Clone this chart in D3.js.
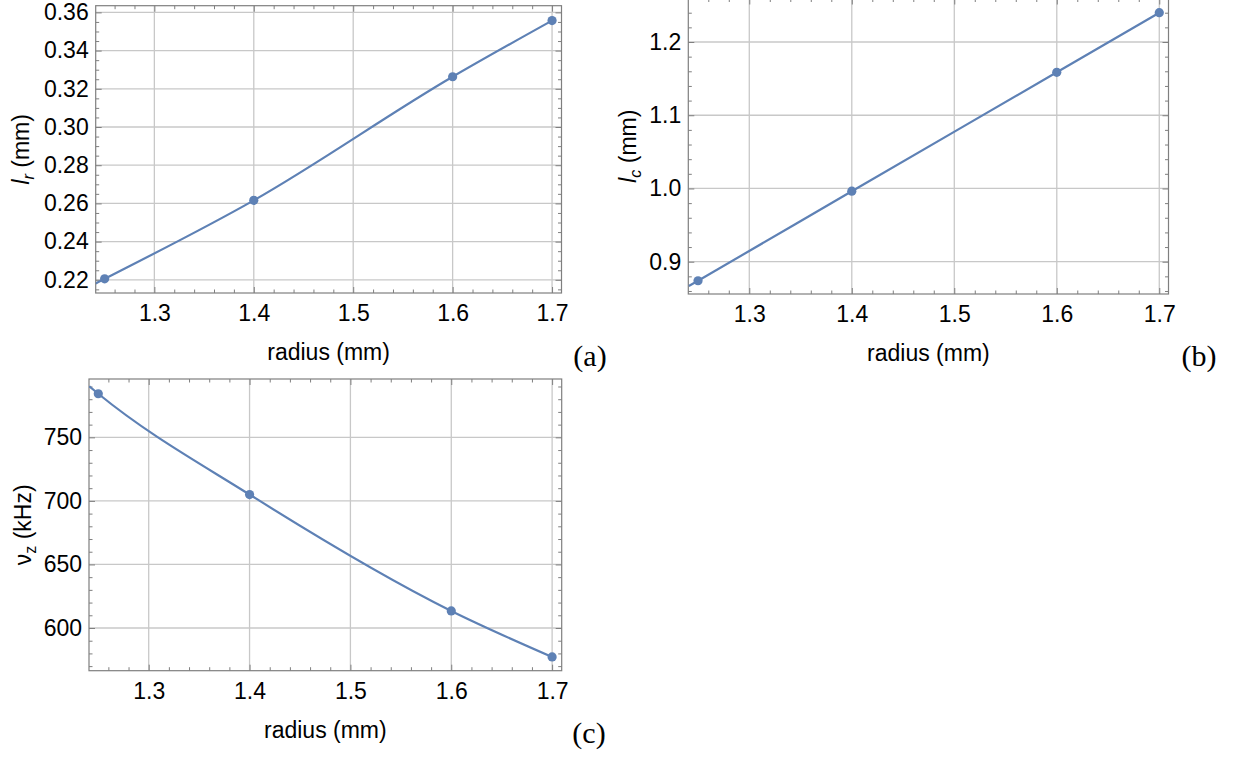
<!DOCTYPE html>
<html>
<head>
<meta charset="utf-8">
<script src="https://cdn.jsdelivr.net/npm/d3@7"></script>
<style>
  html, body { margin: 0; padding: 0; background: #fff; }
  svg { display: block; }
</style>
</head>
<body>
<svg id="chart" width="1248" height="758"></svg>
<script>
// ---------------- data ----------------
const radius = [1.25, 1.4, 1.6, 1.7];               // mm
const lr = [0.2205, 0.2616, 0.3263, 0.3557];         // panel (a), mm
const lc = [0.874, 0.9963, 1.1586, 1.240];           // panel (b), mm
const nuz = [784.3, 705.0, 613.4, 577.2];            // panel (c), kHz
// value of the fitted curve where it enters the frame on the left
const curveStartRadius = 1.241;
const lrCurveStart = 0.2181;
const lcCurveStart = 0.8668;
const nuzCurveStart = 790.2;

const xTicks = [1.3, 1.4, 1.5, 1.6, 1.7];
const xTickLabels = ["1.3", "1.4", "1.5", "1.6", "1.7"];
const aYTicks = [0.22, 0.24, 0.26, 0.28, 0.30, 0.32, 0.34, 0.36];
const aYTickLabels = ["0.22", "0.24", "0.26", "0.28", "0.30", "0.32", "0.34", "0.36"];
const bYTicks = [0.9, 1.0, 1.1, 1.2];
const bYTickLabels = ["0.9", "1.0", "1.1", "1.2"];
const cYTicks = [600, 650, 700, 750];
const cYTickLabels = ["600", "650", "700", "750"];
const xLabel = "radius (mm)";
const panelTags = ["(a)", "(b)", "(c)"];

// ---------------- style ----------------
const lineColor = "#5E81B5";
const frameColor = "#7f7f7f";
const gridColor = "#c8c8c8";
const sans = '"Liberation Sans", Arial, sans-serif';
const serif = '"Liberation Serif", "Times New Roman", serif';
const fs = 23;

const svg = d3.select("#chart");
const defs = svg.append("defs");

const panels = [
  {
    rect: {x0: 95.7, x1: 561.5, y0: 5.7, y1: 293},
    xDomain: [1.241, 1.7095], yDomain: [0.2131, 0.3635],
    y: lr, start: lrCurveStart,
    yTicks: aYTicks, yTickLabels: aYTickLabels, yMinorStep: 0.005,
    ylab: {x: 21, main: "l", sub: "r", rest: " (mm)", italicSub: true},
    tag: panelTags[0], tagPos: [590, 366]
  },
  {
    rect: {x0: 688.3, x1: 1168.5, y0: -1.5, y1: 294},
    xDomain: [1.2405, 1.709], yDomain: [0.8559, 1.2594],
    y: lc, start: lcCurveStart,
    yTicks: bYTicks, yTickLabels: bYTickLabels, yMinorStep: 0.02,
    ylab: {x: 628, main: "l", sub: "c", rest: " (mm)", italicSub: true},
    tag: panelTags[1], tagPos: [1199, 366]
  },
  {
    rect: {x0: 89, x1: 561.7, y0: 379, y1: 670.7},
    xDomain: [1.2408, 1.7095], yDomain: [566.4, 795.9],
    y: nuz, start: nuzCurveStart,
    yTicks: cYTicks, yTickLabels: cYTickLabels, yMinorStep: 10,
    ylab: {x: 23, main: "ν", sub: "z", rest: " (kHz)", italicSub: false, upright: true},
    tag: panelTags[2], tagPos: [589, 743]
  }
];

panels.forEach((p, pi) => {
  const r = p.rect;
  const x = d3.scaleLinear().domain(p.xDomain).range([r.x0, r.x1]);
  const y = d3.scaleLinear().domain(p.yDomain).range([r.y1, r.y0]);
  const g = svg.append("g");
  const W = r.x1 - r.x0, H = r.y1 - r.y0;

  defs.append("clipPath").attr("id", "clip" + pi)
    .append("rect").attr("x", r.x0).attr("y", r.y0).attr("width", W).attr("height", H);

  // grid lines
  g.append("g").selectAll("line").data(xTicks).join("line")
    .attr("x1", d => x(d)).attr("x2", d => x(d))
    .attr("y1", r.y0).attr("y2", r.y1)
    .attr("stroke", gridColor).attr("stroke-width", 1.3);
  g.append("g").selectAll("line").data(p.yTicks).join("line")
    .attr("x1", r.x0).attr("x2", r.x1)
    .attr("y1", d => y(d)).attr("y2", d => y(d))
    .attr("stroke", gridColor).attr("stroke-width", 1.3);

  // minor tick positions
  const xMinor = d3.range(1.24, 1.71, 0.02).map(v => +v.toFixed(3))
    .filter(v => v >= p.xDomain[0] && v <= p.xDomain[1] && !xTicks.some(t => Math.abs(t - v) < 1e-6));
  const yMinor = d3.range(Math.ceil(p.yDomain[0] / p.yMinorStep) * p.yMinorStep, p.yDomain[1], p.yMinorStep)
    .map(v => +v.toFixed(4))
    .filter(v => !p.yTicks.some(t => Math.abs(t - v) < 1e-6));

  const styleAxis = (sel) => {
    sel.select(".domain").remove();
    sel.selectAll(".tick line").attr("stroke", frameColor).attr("stroke-width", 1);
    sel.selectAll(".tick text").attr("font-size", fs).attr("fill", "#000").attr("font-family", sans);
  };

  // bottom axis (labels)
  g.append("g").attr("transform", `translate(0,${r.y1})`)
    .call(d3.axisBottom(x).tickValues(xTicks).tickFormat((d, i) => xTickLabels[i]).tickSizeInner(-6).tickSizeOuter(0).tickPadding(12))
    .call(styleAxis);
  g.append("g").attr("transform", `translate(0,${r.y1})`)
    .call(d3.axisBottom(x).tickValues(xMinor).tickFormat("").tickSizeInner(-3.5).tickSizeOuter(0))
    .call(styleAxis);
  // top axis
  g.append("g").attr("transform", `translate(0,${r.y0})`)
    .call(d3.axisTop(x).tickValues(xTicks).tickFormat("").tickSizeInner(-6).tickSizeOuter(0))
    .call(styleAxis);
  g.append("g").attr("transform", `translate(0,${r.y0})`)
    .call(d3.axisTop(x).tickValues(xMinor).tickFormat("").tickSizeInner(-3.5).tickSizeOuter(0))
    .call(styleAxis);
  // left axis (labels)
  g.append("g").attr("transform", `translate(${r.x0},0)`)
    .call(d3.axisLeft(y).tickValues(p.yTicks).tickFormat((d, i) => p.yTickLabels[i]).tickSizeInner(-6).tickSizeOuter(0).tickPadding(7))
    .call(styleAxis);
  g.append("g").attr("transform", `translate(${r.x0},0)`)
    .call(d3.axisLeft(y).tickValues(yMinor).tickFormat("").tickSizeInner(-3.5).tickSizeOuter(0))
    .call(styleAxis);
  // right axis
  g.append("g").attr("transform", `translate(${r.x1},0)`)
    .call(d3.axisRight(y).tickValues(p.yTicks).tickFormat("").tickSizeInner(-6).tickSizeOuter(0))
    .call(styleAxis);
  g.append("g").attr("transform", `translate(${r.x1},0)`)
    .call(d3.axisRight(y).tickValues(yMinor).tickFormat("").tickSizeInner(-3.5).tickSizeOuter(0))
    .call(styleAxis);

  // frame
  g.append("rect").attr("x", r.x0).attr("y", r.y0).attr("width", W).attr("height", H)
    .attr("fill", "none").attr("stroke", frameColor).attr("stroke-width", 1.2);

  // curve
  const pts = [[curveStartRadius, p.start]].concat(radius.map((d, i) => [d, p.y[i]]));
  const line = d3.line().x(d => x(d[0])).y(d => y(d[1])).curve(d3.curveMonotoneX);
  g.append("path").attr("d", line(pts)).attr("fill", "none")
    .attr("clip-path", `url(#clip${pi})`)
    .attr("stroke", lineColor).attr("stroke-width", 2.2);
  g.selectAll("circle").data(radius.map((d, i) => [d, p.y[i]])).join("circle")
    .attr("cx", d => x(d[0])).attr("cy", d => y(d[1])).attr("r", 4.6)
    .attr("fill", lineColor);

  // x label
  g.append("text").attr("x", (r.x0 + r.x1) / 2).attr("y", r.y1 + 67)
    .attr("text-anchor", "middle").attr("font-family", sans).attr("font-size", fs)
    .text(xLabel);

  // y label
  const yl = g.append("text")
    .attr("transform", `translate(${p.ylab.x},${(r.y0 + r.y1) / 2}) rotate(-90)`)
    .attr("text-anchor", "middle").attr("dy", "0.35em")
    .attr("font-family", sans).attr("font-size", fs);
  yl.append("tspan").attr("font-style", p.ylab.upright ? "normal" : "italic").text(p.ylab.main);
  yl.append("tspan").attr("font-style", p.ylab.italicSub ? "italic" : "normal")
    .attr("font-size", fs * 0.7).attr("dy", 5).text(p.ylab.sub);
  yl.append("tspan").attr("dy", -5).text(p.ylab.rest);

  // panel tag
  g.append("text").attr("x", p.tagPos[0]).attr("y", p.tagPos[1])
    .attr("text-anchor", "middle").attr("font-family", serif).attr("font-size", 30)
    .text(p.tag);
});
</script>
</body>
</html>
